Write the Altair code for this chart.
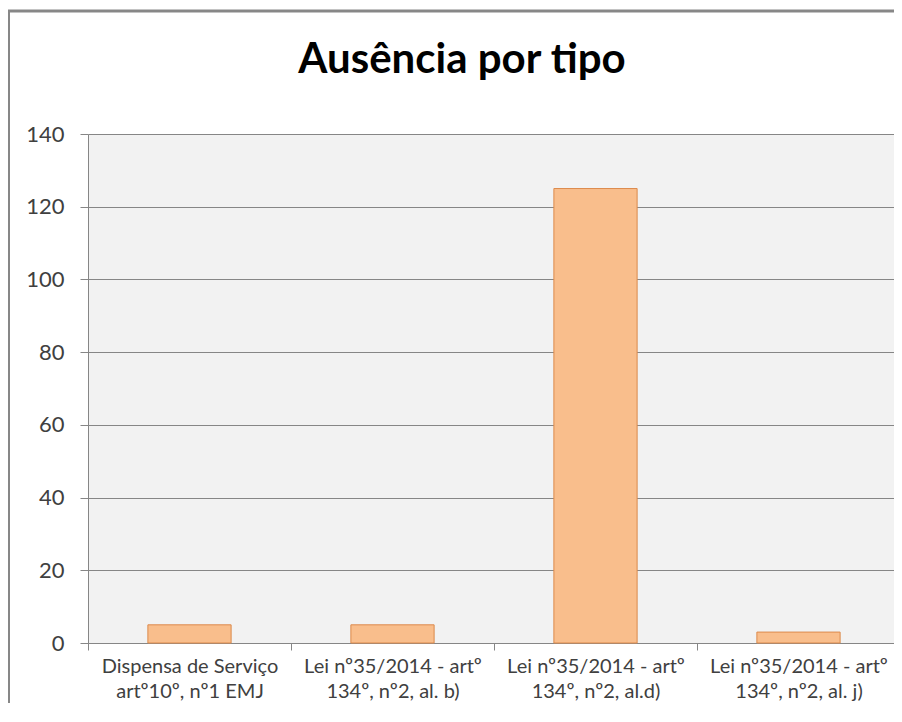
import altair as alt
import pandas as pd

categories = [
    "Dispensa de Serviço\nartº10º, nº1 EMJ",
    "Lei nº35/2014  - artº\n134º, nº2, al. b)",
    "Lei nº35/2014 - artº\n134º, nº2, al.d)",
    "Lei nº35/2014  - artº\n134º, nº2, al. j)",
]
values = [5, 5, 125, 3]
y_ticks = [0, 20, 40, 60, 80, 100, 120, 140]
title_text = "Ausência por tipo"

df = pd.DataFrame({"tipo": categories, "valor": values})

GRAY = "#868686"

frame = alt.Chart(alt.Data(values=[{"k": 1}])).mark_rect(
    filled=False, stroke="#878787", strokeWidth=3
).encode(
    x=alt.value(-79.5), x2=alt.value(1000), y=alt.value(-123), y2=alt.value(800)
)

title = alt.Chart(alt.Data(values=[{"t": title_text}])).mark_text(
    font="Lato", fontSize=42, fontWeight="bold", color="#000000",
    align="center", baseline="alphabetic"
).encode(
    x=alt.value(374), y=alt.value(-61), text="t:N"
)

bars = alt.Chart(df).mark_bar(
    width=alt.RelativeBandSize(0.41), fill="#F9BE8C", stroke="#DC8A4C", strokeWidth=1
).encode(
    x=alt.X(
        "tipo:N",
        sort=categories,
        scale=alt.Scale(paddingInner=0, paddingOuter=0, range=[0, 812]),
        axis=alt.Axis(
            title=None,
            labelAngle=0,
            tickBand="extent",
            labelExpr="isValid(datum.value) ? split(datum.value, '\\n') : ''",
            labelFont="Lato",
            labelFontSize=20,
            labelColor="#404040",
            labelLineHeight=25,
            labelBaseline="top",
            labelPadding=6,
            labelLimit=300,
            labelOverlap=False,
            domainColor=GRAY,
            tickColor=GRAY,
            tickSize=7,
            grid=False,
        ),
    ),
    y=alt.Y(
        "valor:Q",
        scale=alt.Scale(domain=[0, 140], nice=False),
        axis=alt.Axis(
            title=None,
            values=y_ticks,
            labelFont="Lato",
            labelFontSize=22,
            labelColor="#404040",
            labelPadding=16,
            domainColor=GRAY,
            tickColor=GRAY,
            tickSize=8,
            gridColor=GRAY,
            gridWidth=1,
        ),
    ),
)

chart = alt.layer(frame, title, bars).properties(
    width=806,
    height=509,
    autosize="none",
    padding={"left": 80, "top": 126, "right": 0, "bottom": 60},
).configure_view(fill="#F2F2F2", stroke="transparent")

chart.save("out.html", embed_options={"renderer": "svg", "actions": False})
